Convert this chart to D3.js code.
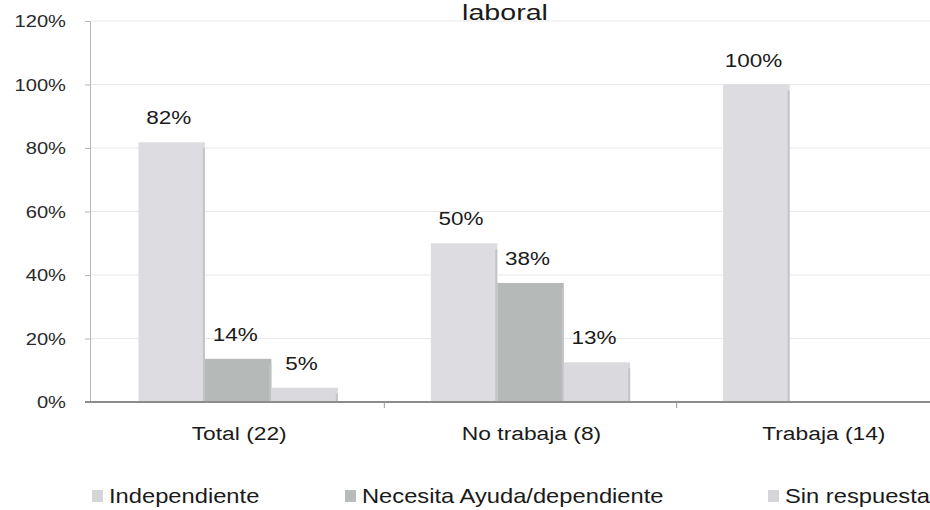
<!DOCTYPE html>
<html><head><meta charset="utf-8">
<script src="https://cdn.jsdelivr.net/npm/d3@7"></script>
<style>body{margin:0;background:#fff}svg{display:block}text{font-family:"Liberation Sans",Arial,sans-serif;fill:#1a1a1a}</style>
</head><body>
<svg id="c" width="930" height="510"></svg>
<script>
const categories = ["Total (22)", "No trabaja (8)", "Trabaja (14)"];
const seriesNames = ["Independiente", "Necesita Ayuda/dependiente", "Sin respuesta"];
const independiente = [81.8, 50, 100];
const necesitaAyuda = [13.6, 37.5, 0];
const sinRespuesta = [4.5, 12.5, 0];
const labelsIndep = ["82%", "50%", "100%"];
const labelsAyuda = ["14%", "38%", ""];
const labelsSin = ["5%", "13%", ""];
const yTicks = [0, 20, 40, 60, 80, 100, 120];
const titleText = "laboral";

const seriesValues = [independiente, necesitaAyuda, sinRespuesta];
const seriesLabels = [labelsIndep, labelsAyuda, labelsSin];
const colors = ["#dcdce1", "#b5bab8", "#d9d9de"];

const svg = d3.select("#c");
const y = d3.scaleLinear().domain([0, 120]).range([402, 21]);
const x = d3.scaleBand().domain(categories).range([92, 969]).padding(0);
const xs = d3.scaleBand().domain(d3.range(3)).range([0, x.bandwidth()]).paddingInner(0).paddingOuter(0.7);

function txt(g, s, px, py, size, sx, anchor) {
  return g.append("text").attr("transform", `translate(${px},${py}) scale(${sx},1)`)
    .attr("text-anchor", anchor || "middle").style("font-size", size + "px").text(s);
}

// gridlines
svg.append("g").selectAll("line").data(yTicks.filter(d => d > 0)).join("line")
  .attr("x1", 90).attr("x2", 930).attr("y1", d => y(d)).attr("y2", d => y(d))
  .attr("stroke", "#e8e8e8").attr("stroke-width", 1.2);

// y axis
const yAxis = svg.append("g").attr("transform", "translate(90,0)")
  .call(d3.axisLeft(y).tickValues(yTicks).tickSize(5).tickFormat(""));
yAxis.select(".domain").attr("stroke", "#b5b5b5");
yAxis.selectAll(".tick line").attr("stroke", "#b5b5b5");
yTicks.forEach(t => txt(svg, t + "%", 66, y(t) + 6, 16.5, 1.22, "end").style("fill", "#2a2a2a"));

// bars
seriesValues.forEach((vals, si) => {
  svg.append("g").selectAll("rect").data(categories).join("rect")
    .attr("x", (c) => x(c) + xs(si))
    .attr("width", xs.bandwidth())
    .attr("y", (c, i) => y(vals[i]))
    .attr("height", (c, i) => y(0) - y(vals[i]))
    .attr("fill", colors[si]);
  svg.append("g").selectAll("line").data(categories.filter((c, i) => vals[i] > 0)).join("line")
    .attr("x1", c => x(c) + xs(si) + xs.bandwidth() - 1)
    .attr("x2", c => x(c) + xs(si) + xs.bandwidth() - 1)
    .attr("y1", (c) => y(vals[categories.indexOf(c)]) + 6)
    .attr("y2", y(0))
    .attr("stroke", "#c4c4c8").attr("stroke-width", 2);
});

// x axis
const xAxis = svg.append("g").attr("transform", `translate(0,${y(0)})`)
  .call(d3.axisBottom(x).tickSize(0).tickFormat(""));
xAxis.select(".domain").attr("stroke", "#8c8c8c").attr("stroke-width", 2).attr("d", "M85,0H930");
svg.append("g").selectAll("line").data(categories.slice(1)).join("line")
  .attr("x1", c => x(c)).attr("x2", c => x(c)).attr("y1", y(0)).attr("y2", y(0) + 6)
  .attr("stroke", "#9a9a9a");
categories.forEach(c => txt(svg, c, x(c) + x.bandwidth() / 2 + 1, 440, 19, 1.2));

// data labels
seriesLabels.forEach((labs, si) => {
  categories.forEach((c, i) => {
    if (!labs[i]) return;
    txt(svg, labs[i], x(c) + xs(si) + xs.bandwidth() / 2 - 3, y(seriesValues[si][i]) - 18, 18, 1.25);
  });
});

// title
txt(svg, titleText, 505, 20, 22, 1.3);

// legend
const legX = [92, 345, 768];
seriesNames.forEach((n, i) => {
  svg.append("rect").attr("x", legX[i]).attr("y", 490).attr("width", 11).attr("height", 12)
    .attr("fill", i === 1 ? "#b8bcba" : "#d6d6da");
  txt(svg, n, legX[i] + 17, 503, 21, 1.13, "start");
});
</script>
</body></html>
